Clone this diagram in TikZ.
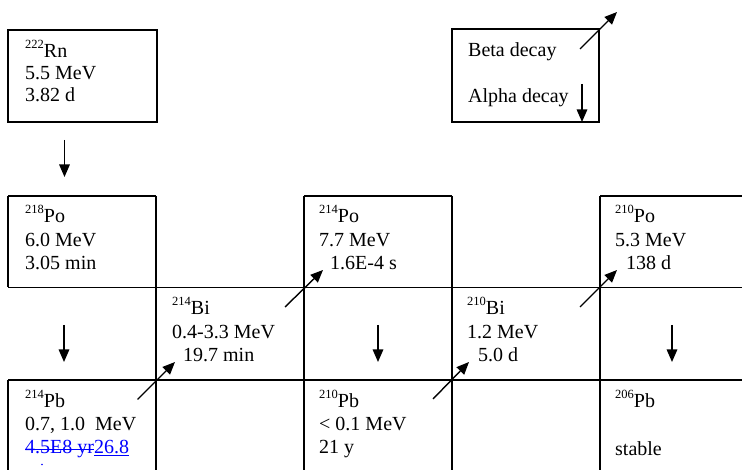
\documentclass[tikz,border=0pt]{standalone}
\usepackage{fontspec}
\setmainfont{Liberation Serif}
\usetikzlibrary{arrows.meta}
\newsavebox\tmpbox
\newcommand\strk[1]{\sbox\tmpbox{#1}\rlap{\raisebox{3.5pt}{\rule{\wd\tmpbox}{1pt}}}\usebox\tmpbox}
\newcommand\undl[1]{\sbox\tmpbox{#1}\rlap{\raisebox{-3pt}{\rule{\wd\tmpbox}{1pt}}}\usebox\tmpbox}
\newcommand\iso[2]{\raisebox{9pt}{\fontsize{12.5}{12.5}\selectfont #1}#2}
\newcommand\lines[2]{\vtop{\baselineskip=#1\lineskiplimit=-100pt\lineskip=0pt #2}}
\begin{document}
\begin{tikzpicture}[x=1pt,y=-1pt,
  gridline/.style={line width=1.3pt},
  decay/.style={line width=1.4pt,-{Triangle[length=12.5pt,width=10.5pt]}},
  txt/.style={anchor=base west,inner sep=0pt,font=\fontsize{20}{23}\selectfont}]
\clip (0,0) rectangle (742,470);
\fill[white] (0,0) rectangle (742,470);
% boxes
\draw[gridline] (8,30) rectangle (157,122);
\draw[gridline] (452,29) rectangle (599,122);
\draw[gridline] (8,196) -- (156,196);
\draw[gridline] (304,196) -- (452,196);
\draw[gridline] (600,196) -- (760,196);
\draw[gridline] (8,287.5) -- (760,287.5);
\draw[gridline] (8,380) -- (760,380);
\draw[gridline] (8,196) -- (8,287.5);
\draw[gridline] (8,380) -- (8,480);
\foreach \x in {156,304,452,600} \draw[gridline] (\x,196) -- (\x,480);
% texts
\node[txt] (rn) at (25,58) {\lines{22pt}{\hbox{\iso{222}{Rn}}\hbox{5.5 MeV}\hbox{3.82 d}}};
\node[txt] (beta) at (468,57) {Beta decay};
\node[txt] (alpha) at (468,103) {Alpha decay};
\node[txt] (po218) at (25,223) {\lines{23.5pt}{\hbox{\iso{218}{Po}}\hbox{6.0 MeV}\hbox{3.05 min}}};
\node[txt] (po214) at (319,223) {\lines{23.5pt}{\hbox{\iso{214}{Po}}\hbox{7.7 MeV}\hbox{\hspace{11pt}1.6E-4 s}}};
\node[txt] (po210) at (615,223) {\lines{23.5pt}{\hbox{\iso{210}{Po}}\hbox{5.3 MeV}\hbox{\hspace{11pt}138 d}}};
\node[txt] (bi214) at (172,315) {\lines{23.5pt}{\hbox{\iso{214}{Bi}}\hbox{0.4-3.3 MeV}\hbox{\hspace{11pt}19.7 min}}};
\node[txt] (bi210) at (467,315) {\lines{23.5pt}{\hbox{\iso{210}{Bi}}\hbox{1.2 MeV}\hbox{\hspace{11pt}5.0 d}}};
\node[txt] (pb214) at (25,407) {\lines{23pt}{\hbox{\iso{214}{Pb}}\hbox{0.7, 1.0\ \ MeV}\hbox{\color{blue}\strk{4.5E8 yr}\undl{26.8}}}};
\fill[blue] (42,464.5) circle (0.9);
\node[txt] (pb210) at (319,407) {\lines{23.5pt}{\hbox{\iso{210}{Pb}}\hbox{< 0.1 MeV}\hbox{21 y}}};
\node[txt] (pb206) at (615,407) {\lines{24pt}{\hbox{\iso{206}{Pb}}\hbox{}\hbox{stable}}};
% arrow end points
\coordinate (a1s) at (64.5,140); \coordinate (a1e) at (64.5,177);
\coordinate (a2s) at (64,325);   \coordinate (a2e) at (64,362);
\coordinate (a3s) at (378,325);  \coordinate (a3e) at (378,362);
\coordinate (a4s) at (672,325);  \coordinate (a4e) at (672,362);
\coordinate (b1s) at (137.5,399.5);  \coordinate (b1e) at (175,362);
\coordinate (b2s) at (285,307);  \coordinate (b2e) at (323,270);
\coordinate (b3s) at (433,399);  \coordinate (b3e) at (469,362);
\coordinate (b4s) at (580,307);  \coordinate (b4e) at (617,270);
\coordinate (lbs) at (580,49);   \coordinate (lbe) at (617,12);
\coordinate (las) at (582,84);   \coordinate (lae) at (582,122);
\foreach \p in {a1,a2,a3,a4,b1,b2,b3,b4,lb,la} \draw[decay] (\p s) -- (\p e);
\end{tikzpicture}
\end{document}
